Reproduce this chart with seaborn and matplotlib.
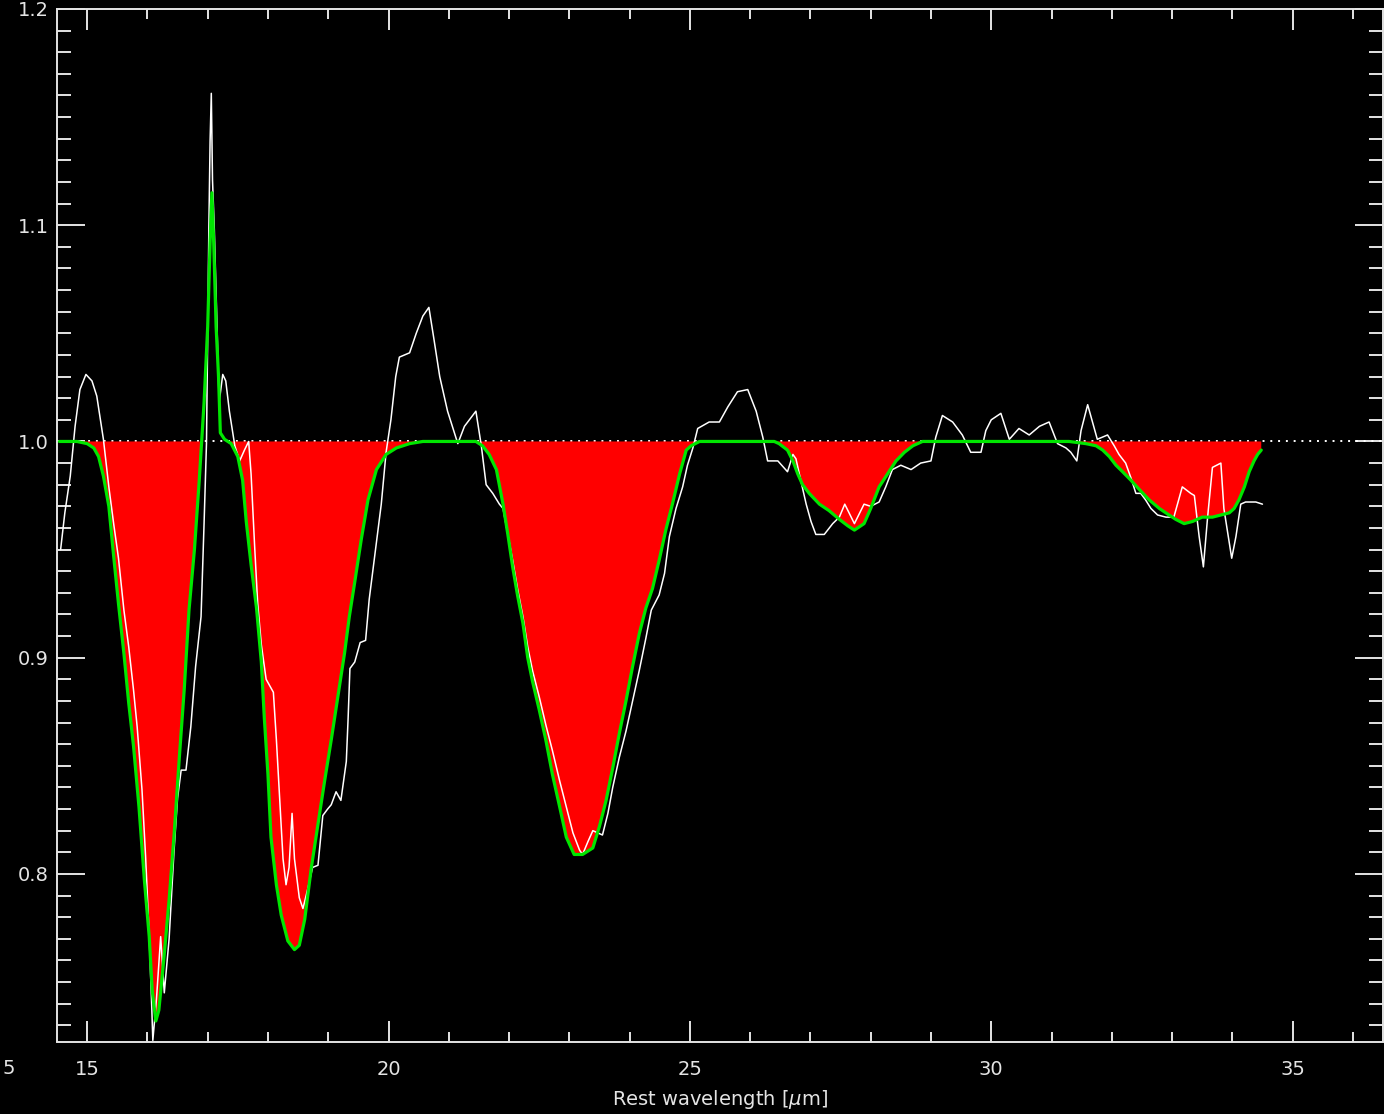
import numpy as np
import pandas as pd
import matplotlib
matplotlib.use("Agg")
import matplotlib.pyplot as plt
from matplotlib.ticker import MultipleLocator, FormatStrFormatter
import seaborn as sns

# Observed continuum-normalised spectrum
wave_obs = [
    14.56, 14.63, 14.72, 14.80, 14.88, 14.98, 15.08, 15.16, 15.27, 15.36,
    15.44, 15.52, 15.61, 15.69, 15.77, 15.83, 15.91, 15.97, 16.03, 16.07,
    16.09, 16.15, 16.22, 16.28, 16.36, 16.44, 16.50, 16.56, 16.64, 16.72,
    16.80, 16.89, 16.94, 16.98, 17.02, 17.04, 17.06, 17.08, 17.11, 17.16,
    17.19, 17.25, 17.30, 17.36, 17.45, 17.53, 17.61, 17.68, 17.72, 17.78,
    17.83, 17.89, 17.97, 18.05, 18.09, 18.14, 18.19, 18.25, 18.30, 18.35,
    18.40, 18.44, 18.52, 18.58, 18.66, 18.74, 18.83, 18.91, 18.99, 19.05,
    19.13, 19.21, 19.30, 19.33, 19.36, 19.44, 19.53, 19.62, 19.68, 19.79,
    19.88, 19.96, 20.04, 20.12, 20.18, 20.35, 20.46, 20.57, 20.67, 20.75,
    20.85, 20.98, 21.15, 21.26, 21.45, 21.54, 21.62, 21.73, 21.84, 21.90,
    21.98, 22.06, 22.14, 22.23, 22.31, 22.39, 22.50, 22.61, 22.72, 22.84,
    22.95, 23.06, 23.17, 23.22, 23.31, 23.39, 23.47, 23.55, 23.64, 23.72,
    23.83, 23.94, 24.05, 24.16, 24.27, 24.36, 24.49, 24.58, 24.66, 24.77,
    24.88, 24.96, 25.05, 25.13, 25.32, 25.49, 25.63, 25.79, 25.96, 26.10,
    26.21, 26.29, 26.46, 26.62, 26.71, 26.76, 26.84, 26.93, 27.01, 27.09,
    27.23, 27.37, 27.48, 27.57, 27.73, 27.89, 28.00, 28.14, 28.25, 28.36,
    28.50, 28.67, 28.83, 29.00, 29.08, 29.19, 29.36, 29.52, 29.66, 29.83,
    29.91, 30.00, 30.16, 30.30, 30.46, 30.63, 30.80, 30.96, 31.10, 31.24,
    31.32, 31.42, 31.49, 31.60, 31.76, 31.93, 32.04, 32.12, 32.23, 32.32,
    32.40, 32.48, 32.56, 32.65, 32.76, 32.90, 33.03, 33.17, 33.31, 33.37,
    33.45, 33.52, 33.59, 33.67, 33.81, 33.86, 33.99, 34.06, 34.14, 34.22,
    34.39, 34.50,
]
flux_obs = [
    0.950, 0.967, 0.984, 1.007, 1.024, 1.031, 1.028, 1.021, 1.001, 0.979,
    0.962, 0.946, 0.922, 0.905, 0.885, 0.868, 0.839, 0.808, 0.771, 0.740,
    0.723, 0.742, 0.771, 0.745, 0.770, 0.810, 0.835, 0.848, 0.848, 0.868,
    0.896, 0.919, 0.962, 0.999, 1.100, 1.139, 1.161, 1.121, 1.098, 1.047,
    1.018, 1.031, 1.028, 1.014, 0.998, 0.991, 0.996, 1.000, 0.985, 0.951,
    0.925, 0.906, 0.890, 0.886, 0.884, 0.862, 0.837, 0.807, 0.795, 0.803,
    0.828, 0.807, 0.789, 0.784, 0.793, 0.803, 0.804, 0.827, 0.830, 0.832,
    0.838, 0.834, 0.852, 0.872, 0.895, 0.898, 0.907, 0.908, 0.927, 0.951,
    0.971, 0.995, 1.010, 1.030, 1.039, 1.041, 1.050, 1.058, 1.062, 1.048,
    1.030, 1.014, 0.999, 1.007, 1.014, 0.998, 0.980, 0.976, 0.971, 0.969,
    0.957, 0.945, 0.932, 0.919, 0.905, 0.894, 0.882, 0.869, 0.857, 0.843,
    0.831, 0.819, 0.811, 0.809, 0.815, 0.820, 0.819, 0.818, 0.828, 0.840,
    0.854, 0.866, 0.880, 0.894, 0.909, 0.922, 0.929, 0.939, 0.956, 0.969,
    0.979, 0.989, 0.997, 1.006, 1.009, 1.009, 1.016, 1.023, 1.024, 1.014,
    1.002, 0.991, 0.991, 0.986, 0.994, 0.992, 0.982, 0.971, 0.963, 0.957,
    0.957, 0.962, 0.965, 0.971, 0.962, 0.971, 0.970, 0.972, 0.979, 0.987,
    0.989, 0.987, 0.990, 0.991, 1.002, 1.012, 1.009, 1.003, 0.995, 0.995,
    1.005, 1.010, 1.013, 1.001, 1.006, 1.003, 1.007, 1.009, 0.999, 0.997,
    0.995, 0.991, 1.005, 1.017, 1.001, 1.003, 0.998, 0.994, 0.990, 0.983,
    0.976, 0.976, 0.973, 0.969, 0.966, 0.965, 0.965, 0.979, 0.976, 0.975,
    0.956, 0.942, 0.965, 0.988, 0.990, 0.969, 0.946, 0.956, 0.971, 0.972,
    0.972, 0.971,
]

# Model fit of the absorption features
wave_fit = [
    14.54, 14.83, 15.00, 15.11, 15.19, 15.27, 15.36, 15.44, 15.52, 15.61,
    15.69, 15.77, 15.86, 15.95, 16.03, 16.08, 16.14, 16.19, 16.28, 16.36,
    16.44, 16.53, 16.61, 16.69, 16.78, 16.86, 16.94, 17.00, 17.04, 17.07,
    17.10, 17.14, 17.18, 17.21, 17.28, 17.39, 17.50, 17.58, 17.64, 17.72,
    17.81, 17.89, 17.94, 18.00, 18.05, 18.14, 18.22, 18.33, 18.44, 18.52,
    18.61, 18.72, 18.83, 18.94, 19.05, 19.16, 19.27, 19.35, 19.44, 19.55,
    19.66, 19.80, 19.96, 20.13, 20.35, 20.57, 21.45, 21.56, 21.67, 21.79,
    21.90, 21.98, 22.06, 22.14, 22.23, 22.31, 22.39, 22.50, 22.61, 22.72,
    22.84, 22.95, 23.08, 23.22, 23.39, 23.50, 23.61, 23.72, 23.83, 23.94,
    24.05, 24.16, 24.27, 24.38, 24.49, 24.60, 24.71, 24.83, 24.94, 25.02,
    25.16, 26.26, 26.40, 26.48, 26.62, 26.71, 26.79, 26.87, 26.98, 27.15,
    27.31, 27.48, 27.62, 27.73, 27.89, 28.00, 28.14, 28.28, 28.42, 28.56,
    28.70, 28.86, 31.29, 31.57, 31.74, 31.85, 31.96, 32.07, 32.18, 32.32,
    32.45, 32.62, 32.79, 32.95, 33.06, 33.20, 33.34, 33.50, 33.67, 33.81,
    33.95, 34.03, 34.11, 34.20, 34.28, 34.36, 34.42, 34.48,
]
flux_fit = [
    1.000, 1.000, 0.999, 0.997, 0.993, 0.984, 0.970, 0.947, 0.925, 0.902,
    0.879, 0.859, 0.831, 0.797, 0.771, 0.746, 0.732, 0.737, 0.763, 0.788,
    0.817, 0.854, 0.885, 0.922, 0.950, 0.982, 1.018, 1.053, 1.092, 1.115,
    1.092, 1.053, 1.030, 1.004, 1.001, 0.999, 0.993, 0.982, 0.963, 0.943,
    0.923, 0.898, 0.872, 0.846, 0.817, 0.795, 0.781, 0.769, 0.765, 0.767,
    0.779, 0.803, 0.823, 0.843, 0.862, 0.882, 0.902, 0.919, 0.935, 0.955,
    0.973, 0.987, 0.994, 0.997, 0.999, 1.000, 1.000, 0.998, 0.994, 0.987,
    0.971, 0.957, 0.942, 0.929, 0.916, 0.900, 0.889, 0.876, 0.862, 0.846,
    0.831, 0.817, 0.809, 0.809, 0.812, 0.822, 0.834, 0.849, 0.865, 0.880,
    0.896, 0.911, 0.923, 0.932, 0.945, 0.959, 0.971, 0.985, 0.996, 0.998,
    1.000, 1.000, 1.000, 0.999, 0.996, 0.991, 0.985, 0.980, 0.976, 0.971,
    0.968, 0.964, 0.961, 0.959, 0.962, 0.969, 0.979, 0.985, 0.991, 0.995,
    0.998, 1.000, 1.000, 0.999, 0.998, 0.996, 0.993, 0.989, 0.986, 0.982,
    0.978, 0.973, 0.969, 0.966, 0.964, 0.962, 0.963, 0.965, 0.965, 0.966,
    0.967, 0.969, 0.973, 0.979, 0.986, 0.991, 0.994, 0.996,
]

continuum_level = 1.0
x_range = (14.5, 36.5)
y_range = (0.7225, 1.2)

fg = "#e4e4e4"
sns.set_theme(style="ticks", rc={
    "figure.facecolor": "black",
    "axes.facecolor": "black",
    "axes.edgecolor": fg,
    "axes.labelcolor": fg,
    "text.color": fg,
    "xtick.color": fg,
    "ytick.color": fg,
    "axes.linewidth": 1.4,
})
plt.rcParams["font.family"] = ["DejaVu Sans"]

obs = pd.DataFrame({"wave": wave_obs, "flux": flux_obs})
fit = pd.DataFrame({"wave": wave_fit, "flux": flux_fit})

W, H = 1384, 1114
fig = plt.figure(figsize=(W / 100, H / 100), dpi=100)
ax = fig.add_axes([57 / W, (H - 1041.5) / H, (1383 - 57) / W, (1041.5 - 9) / H])
ax.set_facecolor("black")

# dotted continuum reference
ax.hlines(continuum_level, *x_range, colors="white", linestyles=(0, (1, 3)),
          linewidth=1.4, zorder=1)

# absorbed area between continuum and model
fw = np.asarray(wave_fit)
ff = np.asarray(flux_fit)
ax.fill_between(fw, ff, continuum_level, where=ff < continuum_level,
                interpolate=True, color="#ff0000", linewidth=0, zorder=2)

sns.lineplot(data=obs, x="wave", y="flux", ax=ax, color="white",
             linewidth=1.1, estimator=None, sort=False, zorder=3)
sns.lineplot(data=fit, x="wave", y="flux", ax=ax, color="#00e600",
             linewidth=2.3, estimator=None, sort=False, zorder=4)

ax.set_xlim(*x_range)
ax.set_ylim(*y_range)

ax.xaxis.set_major_locator(MultipleLocator(5))
ax.xaxis.set_minor_locator(MultipleLocator(1))
ax.yaxis.set_major_locator(MultipleLocator(0.1))
ax.yaxis.set_minor_locator(MultipleLocator(0.01))
ax.yaxis.set_major_formatter(FormatStrFormatter("%.1f"))

ax.tick_params(axis="x", which="both", direction="in", top=True, bottom=True,
               width=1.4, labelsize=14, pad=13)
ax.tick_params(axis="x", which="major", length=15)
ax.tick_params(axis="x", which="minor", length=7.5)
ax.tick_params(axis="y", which="both", direction="in", left=True, right=True,
               width=1.4, labelsize=14, pad=6)
ax.tick_params(axis="y", which="major", length=20)
ax.tick_params(axis="y", which="minor", length=10)

for s in ax.spines.values():
    s.set_visible(True)
    s.set_color(fg)
    s.set_linewidth(1.4)

ax.set_xlabel("Rest wavelength [$\\mu$m]", fontsize=14, labelpad=7)
ax.set_ylabel("")

# small stray label at the lower-left corner
fig.text(2 / W, 1 - 1068 / H, "5", ha="left", va="center", fontsize=14,
         color=fg)

fig.savefig("out.png", dpi=100, facecolor="black")
